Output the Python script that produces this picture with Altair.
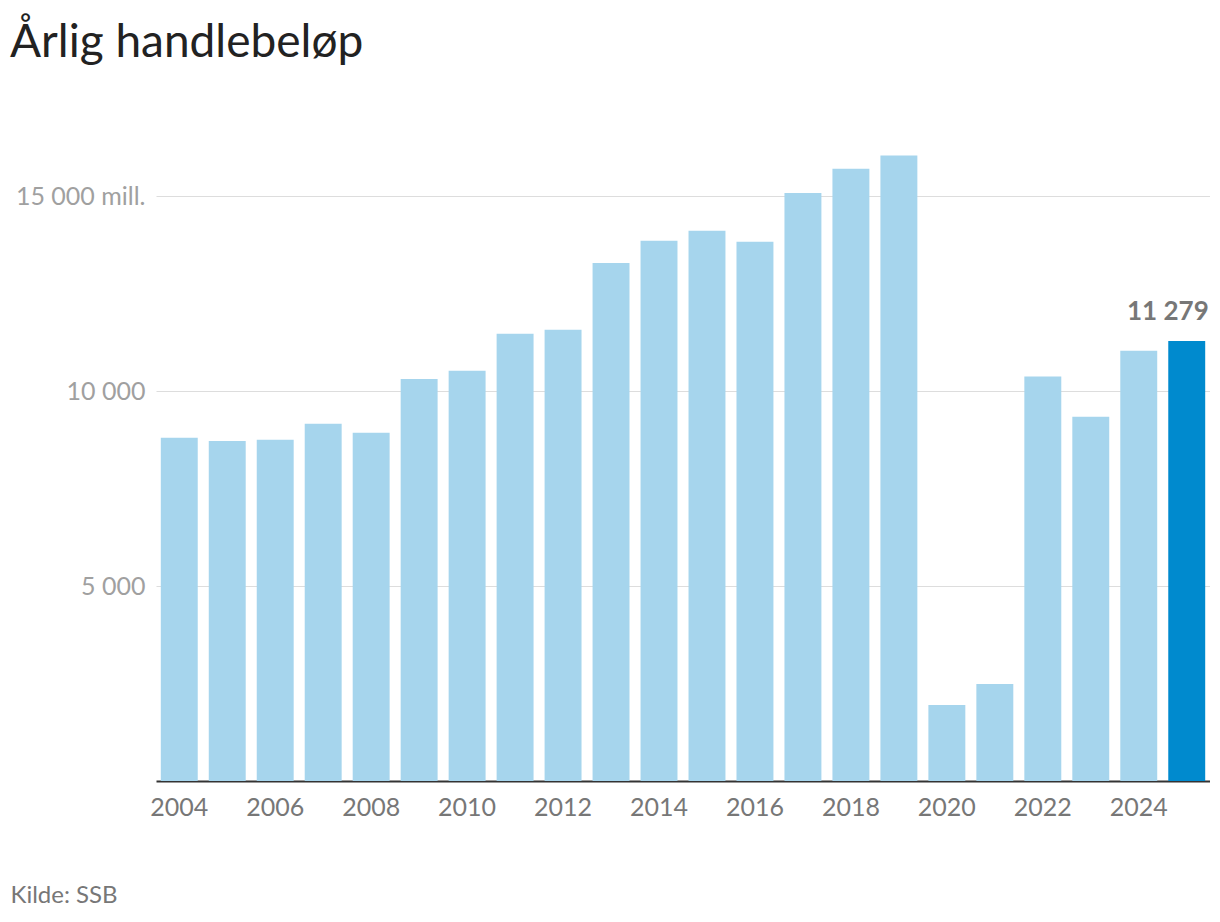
import altair as alt
import pandas as pd

years = [str(y) for y in range(2004, 2026)]
values = [8800, 8720, 8750, 9160, 8930, 10310, 10520, 11470, 11570, 13280,
          13850, 14110, 13830, 15080, 15700, 16040, 1950, 2490, 10370, 9340,
          11030, 11279]
highlight = [False] * 21 + [True]
label_text = [""] * 21 + ["11 279"]

df = pd.DataFrame({"year": years, "value": values, "hl": highlight, "label": label_text})

FONT = "Lato"

x_enc = alt.X(
    "year:O",
    scale=alt.Scale(paddingInner=0.23, paddingOuter=0.1),
    axis=alt.Axis(
        values=[str(y) for y in range(2004, 2026, 2)],
        labelAngle=0, labelFontSize=25, labelColor="#777777", labelFont=FONT,
        labelPadding=14, ticks=False, domainColor="#333333", domainWidth=2,
        title="Kilde: SSB", titleFont=FONT, titleFontSize=24, titleFontWeight="normal",
        titleColor="#777777", titleAnchor="start", titleAlign="left", titleX=-146,
        titleY=121, titleBaseline="alphabetic",
    ),
)
y_enc = alt.Y(
    "value:Q",
    scale=alt.Scale(domain=[0, 17000], nice=False),
    axis=alt.Axis(
        values=[5000, 10000, 15000], title=None, domain=False, ticks=False,
        gridColor="#dddddd", gridWidth=1, labelFontSize=25, labelColor="#a0a0a0",
        labelFont=FONT, labelPadding=11,
        labelExpr="datum.value == 15000 ? '15 000 mill.' : replace(format(datum.value, ','), ',', ' ')",
    ),
)

bars = alt.Chart(df).mark_bar().encode(
    x=x_enc,
    y=y_enc,
    color=alt.Color("hl:N", scale=alt.Scale(domain=[False, True], range=["#a6d5ed", "#008ace"]), legend=None),
)

labels = alt.Chart(df).mark_text(
    baseline="bottom", align="right", dx=22, dy=-16, fontSize=26, fontWeight="bold",
    color="#777777", font=FONT
).encode(x="year:O", y="value:Q", text="label:N")

chart = (bars + labels).properties(
    width=1054, height=663,
    title=alt.TitleParams(
        "Årlig handlebeløp", anchor="start", frame="group", dx=-146, fontSize=46,
        font=FONT, fontWeight="normal", color="#222222", offset=46,
    ),
    autosize="none",
    padding={"left": 148, "top": 110, "right": 0, "bottom": 132},
).configure_view(stroke=None)

chart.save("out.html", embed_options={"renderer": "svg", "actions": False})
